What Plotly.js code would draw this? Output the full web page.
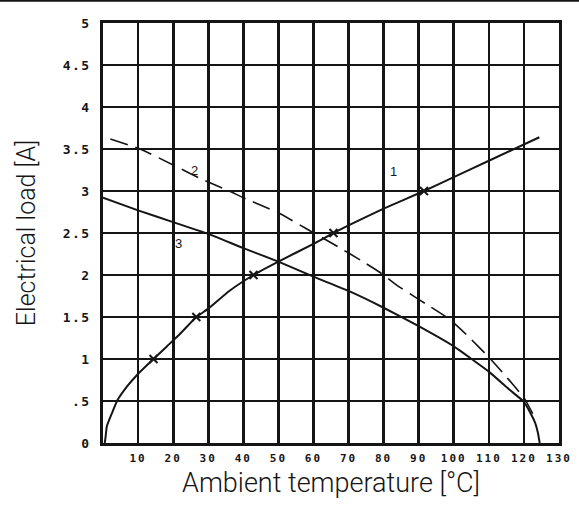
<!DOCTYPE html>
<html>
<head>
<meta charset="utf-8">
<script src="https://cdn.plot.ly/plotly-3.0.1.min.js"></script>
<style>
  html, body { margin: 0; padding: 0; background: #fff; }
  #chart { width: 579px; height: 507px; }
  .xtick text { letter-spacing: 2px; }
  .ytick text { letter-spacing: 1.5px; }
</style>
</head>
<body>
<div id="chart"></div>
<script>
// Curve 1 (rising, solid, with cross markers)
const temp1 = [0.5, 0.7, 1.1, 2.6, 4.0, 6.8, 9.7, 14.4, 18.2, 22, 26.6, 30, 36, 42.9, 50, 60, 65.7, 70, 80, 91.5, 100, 110, 124.4];
const load1 = [0, 0.06, 0.2, 0.36, 0.5, 0.67, 0.81, 1.0, 1.15, 1.3, 1.5, 1.6, 1.81, 2.0, 2.16, 2.37, 2.5, 2.59, 2.79, 3.0, 3.165, 3.36, 3.64];

// Markers on curve 1
const markTemp = [14.4, 26.6, 42.9, 65.7, 91.5];
const markLoad = [1.0, 1.5, 2.0, 2.5, 3.0];

// Curve 2 (falling, dashed)
const temp2 = [2.1, 10.6, 20, 27.7, 36, 40, 50, 58, 61, 66, 73.3, 79, 83.7, 90, 98.9, 104.1, 109.8, 114.1, 117, 120.3, 122.5];
const load2 = [3.62, 3.5, 3.31, 3.15, 3.0, 2.92, 2.74, 2.55, 2.48, 2.36, 2.18, 2.03, 1.88, 1.71, 1.47, 1.27, 1.03, 0.83, 0.69, 0.52, 0.35];

// Curve 3 (falling, solid)
const temp3 = [0, 10, 20, 30, 40, 50, 60, 70, 80, 90, 100, 110, 116, 120, 121.7, 123.2, 124, 124.5];
const load3 = [2.92, 2.77, 2.63, 2.49, 2.32, 2.16, 1.98, 1.81, 1.61, 1.39, 1.15, 0.85, 0.63, 0.49, 0.37, 0.24, 0.12, 0];

// Curve labels
const curveLabels = ['1', '2', '3'];
const labelTemp = [82.9, 26.1, 21.5];
const labelLoad = [3.23, 3.25, 2.38];

// Tick labels
const xTickVals = [10, 20, 30, 40, 50, 60, 70, 80, 90, 100, 110, 120, 130];
const xTickText = ['10', '20', '30', '40', '50', '60', '70', '80', '90', '100', '110', '120', '130'];
const yTickVals = [0, 0.5, 1, 1.5, 2, 2.5, 3, 3.5, 4, 4.5, 5];
const yTickText = ['0', '.5', '1', '1.5', '2', '2.5', '3', '3.5', '4', '4.5', '5'];

const ink = '#151515';
const titleFontX = { family: 'Roboto, DejaVu Sans, sans-serif', size: 27, color: ink, weight: 300 };
const titleFontY = { family: 'Roboto, DejaVu Sans, sans-serif', size: 25, color: ink, weight: 300 };
const tickFontX = { family: 'DejaVu Sans Mono, monospace', size: 11, color: ink, weight: 'bold' };
const tickFontY = { family: 'DejaVu Sans Mono, monospace', size: 13, color: ink, weight: 'bold' };

const traces = [
  { x: temp1, y: load1, mode: 'lines', line: { color: ink, width: 2, shape: 'spline', smoothing: 0.4 }, hoverinfo: 'skip' },
  { x: temp2, y: load2, mode: 'lines', line: { color: ink, width: 1.6, dash: '18px,8px', shape: 'spline', smoothing: 0.4 }, hoverinfo: 'skip' },
  { x: temp3, y: load3, mode: 'lines', line: { color: ink, width: 2, shape: 'spline', smoothing: 0.4 }, hoverinfo: 'skip' },
  { x: markTemp, y: markLoad, mode: 'markers', marker: { symbol: 'x-thin', size: 8, color: ink, line: { color: ink, width: 2 } }, hoverinfo: 'skip' }
];

const annotations = curveLabels.map((t, i) => ({
  x: labelTemp[i], y: labelLoad[i], xref: 'x', yref: 'y', text: t, showarrow: false,
  font: { family: 'Liberation Sans, Arial, sans-serif', size: 13, color: ink }
}));

const layout = {
  width: 579, height: 507,
  margin: { l: 103, r: 20, t: 23, b: 64 },
  paper_bgcolor: '#ffffff', plot_bgcolor: '#ffffff',
  showlegend: false,
  xaxis: {
    range: [0, 130], tickmode: 'array', tickvals: xTickVals, ticktext: xTickText,
    showgrid: true, gridcolor: ink, gridwidth: 2.7, zeroline: false,
    showline: true, linecolor: ink, linewidth: 2.7, mirror: true,
    ticks: '', tickfont: tickFontX, ticklabelstandoff: 3, fixedrange: true,
    title: { text: 'Ambient temperature [°C]', font: titleFontX, standoff: 10 }
  },
  yaxis: {
    range: [0, 5], tickmode: 'array', tickvals: yTickVals, ticktext: yTickText,
    showgrid: true, gridcolor: ink, gridwidth: 2.7, zeroline: false,
    showline: true, linecolor: ink, linewidth: 2.7, mirror: true,
    ticks: '', tickfont: tickFontY, ticklabelstandoff: 7, fixedrange: true,
    title: { text: 'Electrical load [A]', font: titleFontY, standoff: 20 }
  },
  annotations: annotations,
  shapes: [
    { type: 'line', xref: 'paper', yref: 'paper', x0: -0.23, x1: 1.05, y0: 1.053, y1: 1.053, line: { color: ink, width: 2 } }
  ]
};

Plotly.newPlot('chart', traces, layout, { staticPlot: true, displayModeBar: false });
</script>
</body>
</html>
